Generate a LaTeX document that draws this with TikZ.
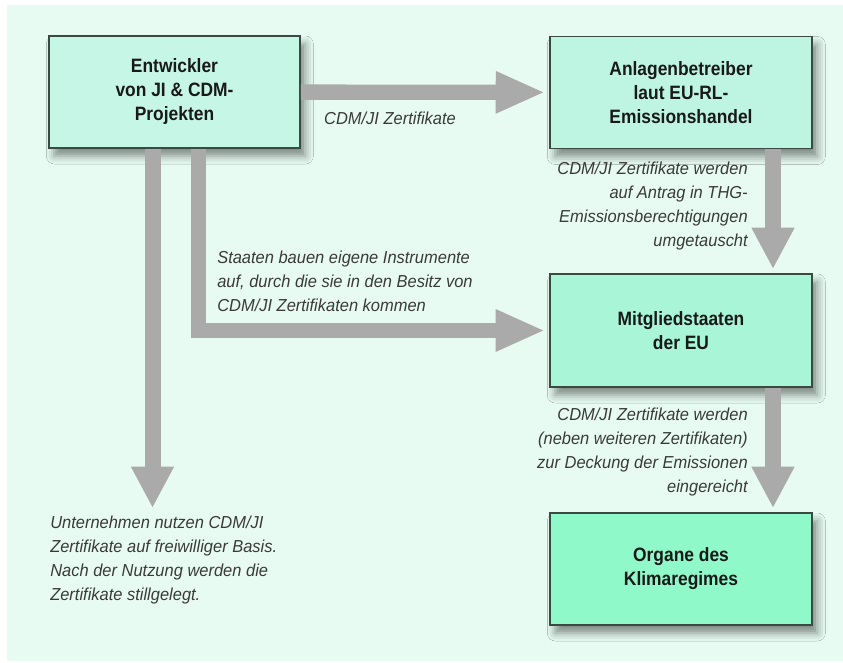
\documentclass[tikz,border=0pt]{standalone}
\usepackage{fontspec}
\setmainfont{Liberation Sans}[FakeStretch=0.95]
\newfontfamily\boxfont{Liberation Sans}[FakeStretch=0.9]
\usetikzlibrary{arrows.meta,shadows.blur}
\definecolor{panelbg}{RGB}{231,251,242}
\definecolor{boxline}{RGB}{58,74,66}
\definecolor{flowgray}{RGB}{170,170,170}
\definecolor{notegray}{RGB}{58,58,58}
\definecolor{fillA}{RGB}{198,247,230}
\definecolor{fillB}{RGB}{190,245,226}
\definecolor{fillC}{RGB}{168,245,216}
\definecolor{fillD}{RGB}{143,249,201}

\begin{document}
\begin{tikzpicture}[x=0.75pt,y=0.75pt,yscale=-1,xscale=1,
  box/.style={draw=boxline, line width=1.4pt, align=center, inner sep=0pt,
    minimum width=196.5pt, minimum height=84pt,
    font=\boxfont\bfseries\fontsize{14.5}{18}\selectfont, text=black!90,
    blur shadow={shadow xshift=4pt, shadow yshift=-6pt, shadow blur radius=6pt, shadow opacity=45}},
  hflow/.style={draw=flowgray, line width=11.5pt, -{Triangle[width=29pt,length=37pt]}, shorten >=3pt},
  vflow/.style={draw=flowgray, line width=12pt, -{Triangle[width=30pt,length=31pt]}, shorten >=3pt},
  note/.style={font=\itshape\fontsize{13}{18}\selectfont, text=notegray, inner sep=0pt}]
%set diagram size to 843 x 663
\useasboundingbox (0,0) rectangle (843,663);
\fill[white] (0,0) rectangle (843,663);
\fill[panelbg] (7,5) rectangle (843,661);

%Boxes
\node[box, fill=fillA, minimum width=188.25pt] (dev) at (174.5,92) {Entwickler\\von JI \& CDM-\\Projekten};
\node[box, fill=fillB] (ops) at (681,92.5) {Anlagenbetreiber\\laut EU-RL-\\Emissionshandel};
\node[box, fill=fillC, minimum height=84.75pt] (mem) at (681,330.5) {Mitgliedstaaten\\der EU};
\node[box, fill=fillD] (org) at (681,569) {Organe des\\Klimaregimes};

%Free ends and bends
\coordinate (vol) at (152.5,512);
\coordinate (bend) at (198.5,330.5);
\coordinate (rcol) at (773,0);

%Arrows
\draw[hflow] (dev) -- (ops);
\draw[vflow] (dev.south -| vol) -- (vol);
\draw[hflow] (dev.south -| bend) |- (mem);
\draw[vflow] (ops.south -| rcol) -- (mem.north -| rcol);
\draw[vflow] (mem.south -| rcol) -- (org.north -| rcol);

%Labels
\node[note] (lbltrade) at (390,118) {CDM/JI Zertifikate};
\node[note, align=right, anchor=east] (lblswap) at (748,206) {CDM/JI Zertifikate werden\\auf Antrag in THG-\\Emissionsberechtigungen\\umgetauscht};
\node[note, align=left, anchor=west] (lblstate) at (217,281) {Staaten bauen eigene Instrumente\\auf, durch die sie in den Besitz von\\CDM/JI Zertifikaten kommen};
\node[note, align=right, anchor=east] (lblsubmit) at (748,452) {CDM/JI Zertifikate werden\\(neben weiteren Zertifikaten)\\zur Deckung der Emissionen\\eingereicht};
\node[note, align=left, anchor=west] (lblvol) at (50,560) {Unternehmen nutzen CDM/JI\\Zertifikate auf freiwilliger Basis.\\Nach der Nutzung werden die\\Zertifikate stillgelegt.};

\end{tikzpicture}
\end{document}
